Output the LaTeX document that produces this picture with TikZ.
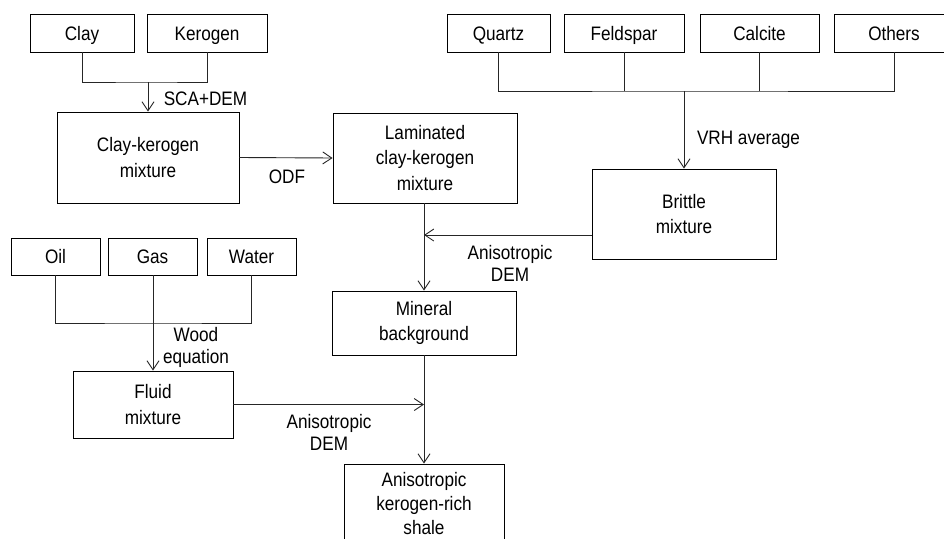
\documentclass[tikz,border=0pt]{standalone}
\usepackage{fontspec}
\setmainfont{Liberation Sans}[FakeStretch=0.88]
\usetikzlibrary{arrows.meta,calc}
\tikzset{
  box/.style={draw=black, line width=0.9pt, rectangle, inner sep=0pt, align=center,
    font=\fontsize{19.5}{25.5}\selectfont},
  sbox/.style={box, text height=17pt, text depth=3pt},
  lbl/.style={inner sep=0pt, align=center, font=\fontsize{19.5}{22}\selectfont},
  slbl/.style={lbl, text height=17pt, text depth=3pt},
  link/.style={draw=black!85, line width=0.9pt},
  arr/.style={link, -{Straight Barb[length=9pt,width=12pt,line width=0.9pt]}}
}
\begin{document}
\begin{tikzpicture}[x=1pt,y=-1pt]
\clip (0,0) rectangle (944,538);
\fill[white] (0,0) rectangle (944,538);
% top-left inputs
\node[sbox, minimum width=104, minimum height=38] (clay) at (82,33) {Clay};
\node[sbox, minimum width=120, minimum height=38] (kerogen) at (207,33) {Kerogen};
\node[box, minimum width=182, minimum height=91] (ckmix) at (148,157.5) {Clay-kerogen\\mixture};
% top-right inputs
\node[sbox, minimum width=103, minimum height=38] (quartz) at (498.5,33) {Quartz};
\node[sbox, minimum width=120, minimum height=38] (feldspar) at (624,33) {Feldspar};
\node[sbox, minimum width=119, minimum height=38] (calcite) at (759.5,33) {Calcite};
\node[sbox, minimum width=120, minimum height=38] (others) at (894,33) {Others};
\node[box, minimum width=184, minimum height=90] (lam) at (425,158) {Laminated\\clay-kerogen\\mixture};
\node[box, minimum width=184, minimum height=90] (brittle) at (684,214) {Brittle\\mixture};
% fluids
\node[sbox, minimum width=89, minimum height=37] (oil) at (55.5,256.5) {Oil};
\node[sbox, minimum width=89, minimum height=37] (gas) at (152.5,256.5) {Gas};
\node[sbox, minimum width=89, minimum height=37] (water) at (251.5,256.5) {Water};
\node[box, minimum width=160, minimum height=67] (fluid) at (153,404.5) {Fluid\\mixture};
\node[box, minimum width=184, minimum height=64] (mineral) at (424,323) {Mineral\\background};
\node[box, minimum width=160, minimum height=80, font=\fontsize{19.5}{24}\selectfont] (shale) at (424,504) {Anisotropic\\kerogen-rich\\shale};
% joins
\coordinate (j1) at (148,82);
\coordinate (j2) at (684,91);
\coordinate (j3) at (153,323);
\coordinate (b1) at ($(brittle.west)+(0,21)$);
% connectors
\draw[link] (clay.south) |- (j1) -| (kerogen.south);
\draw[arr] (j1) -- (ckmix.north);
\draw[link] (quartz.south) |- (j2) -| (others.south);
\draw[link] (feldspar.south) -- (feldspar.south |- j2);
\draw[link] (calcite.south) -- (calcite.south |- j2);
\draw[arr] (j2) -- (brittle.north);
\draw[arr] (ckmix.east) -- (lam.west);
\draw[arr] (b1) -- (b1 -| mineral.north);
\draw[arr] (lam.south -| mineral.north) -- (mineral.north);
\draw[link] (oil.south) |- (j3) -| (water.south);
\draw[arr] (gas.south -| fluid.north) -- (fluid.north);
\draw[arr] (fluid.east) -- (fluid.east -| mineral.south);
\draw[arr] (mineral.south) -- (shale.north);
% labels
\node[slbl] (l1) at (205.5,98) {SCA+DEM};
\node[slbl] (l2) at (287,176) {ODF};
\node[slbl] (l3) at (748.5,137) {VRH average};
\node[lbl] (l4) at (510,263) {Anisotropic\\DEM};
\node[lbl] (l5) at (196,347) {Wood\\equation};
\node[lbl] (l6) at (329,432) {Anisotropic\\DEM};
\end{tikzpicture}
\end{document}
